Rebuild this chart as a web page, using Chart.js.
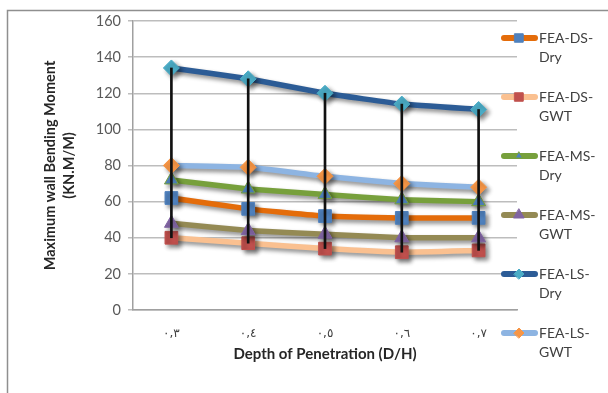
<!DOCTYPE html>
<html lang="en">
<head>
    <meta charset="UTF-8">
    <title>Maximum wall bending moment</title>
    <script src="https://cdn.jsdelivr.net/npm/chart.js"></script>
    <style>
        html, body {
            margin: 0;
            padding: 0;
            background: #fff;
        }
        #wrap {
            width: 608px;
            height: 393px;
        }
    </style>
</head>
<body>
    <div id="wrap"><canvas id="momentChart" width="608" height="393"></canvas></div>

    <script>
        // depth of penetration D/H (shown with Arabic-Indic digits)
        const depthLabels = ['٠,٣', '٠,٤', '٠,٥', '٠,٦', '٠,٧'];

        const dsDry = [62, 56, 52, 51, 51];
        const dsGwt = [40, 37, 34, 32, 33];
        const msDry = [72, 67, 64, 61, 60];
        const msGwt = [48, 44, 42, 40, 40];
        const lsDry = [134, 128, 120, 114, 111];
        const lsGwt = [80, 79, 74, 70, 68];

        const seriesNames = [
            ['FEA-DS-', 'Dry'], ['FEA-DS-', 'GWT'],
            ['FEA-MS-', 'Dry'], ['FEA-MS-', 'GWT'],
            ['FEA-LS-', 'Dry'], ['FEA-LS-', 'GWT']
        ];

        const yTicks = { min: 0, max: 160, step: 20 };

        // line colour, marker fill / edge, marker shape, radius in plot and legend
        const styles = [
            { line: '#E46C0A', fill: '#4F81BD', edge: '#4F81BD', shape: 'rect', r: 9, lr: 6 },
            { line: '#FAC090', fill: '#C0504D', edge: '#C0504D', shape: 'rect', r: 9, lr: 6 },
            { line: '#77A03C', fill: '#4F81BD', edge: '#77A03C', shape: 'triangle', r: 8, lr: 4 },
            { line: '#948A54', fill: '#8064A2', edge: '#8064A2', shape: 'triangle', r: 8, lr: 6 },
            { line: '#2C5C96', fill: '#4BACC6', edge: '#4BACC6', shape: 'rectRot', r: 8, lr: 5 },
            { line: '#8DB4E2', fill: '#F79646', edge: '#F79646', shape: 'rectRot', r: 8, lr: 5 }
        ];

        const allSeries = [dsDry, dsGwt, msDry, msGwt, lsDry, lsGwt];

        const lineSets = allSeries.map((vals, i) => ({
            type: 'line',
            label: seriesNames[i].join(''),
            data: vals,
            borderColor: styles[i].line,
            borderWidth: 5.5,
            backgroundColor: styles[i].fill,
            pointBackgroundColor: styles[i].fill,
            pointBorderColor: styles[i].edge,
            pointBorderWidth: 1,
            pointStyle: styles[i].shape,
            pointRadius: styles[i].r,
            tension: 0.12,
            order: 6 - i
        }));

        // high-low lines: from the lowest to the highest series at each depth
        const highLow = {
            type: 'bar',
            label: 'hl',
            data: depthLabels.map((_, k) => {
                const col = allSeries.map(s => s[k]);
                return [Math.min(...col), Math.max(...col)];
            }),
            backgroundColor: '#111',
            barThickness: 2,
            order: -1
        };

        const shadowPlugin = {
            id: 'shadow',
            beforeDatasetDraw(chart, args) {
                if (args.meta.type !== 'line') return;
                const ctx = chart.ctx;
                ctx.save();
                ctx.shadowColor = 'rgba(0,0,0,0.45)';
                ctx.shadowBlur = 4;
                ctx.shadowOffsetX = 3;
                ctx.shadowOffsetY = 3;
            },
            afterDatasetDraw(chart, args) {
                if (args.meta.type !== 'line') return;
                chart.ctx.restore();
            }
        };

        const framePlugin = {
            id: 'frame',
            beforeDraw(chart) {
                const ctx = chart.ctx;
                ctx.save();
                ctx.fillStyle = '#fff';
                ctx.fillRect(0, 0, chart.width, chart.height);
                ctx.strokeStyle = '#8f8f8f';
                ctx.lineWidth = 1.5;
                ctx.strokeRect(7.5, 10.5, 800, 500);
                ctx.restore();
            }
        };

        // legend with two-line names to the right of the plot
        const sideLegend = {
            id: 'sideLegend',
            afterDraw(chart) {
                const ctx = chart.ctx;
                ctx.save();
                seriesNames.forEach((name, i) => {
                    const st = styles[i];
                    const y = 38 + i * 59;
                    ctx.strokeStyle = st.line;
                    ctx.lineWidth = 6;
                    ctx.lineCap = 'round';
                    ctx.beginPath();
                    ctx.moveTo(504, y);
                    ctx.lineTo(535, y);
                    ctx.stroke();
                    ctx.fillStyle = st.fill;
                    ctx.strokeStyle = st.edge;
                    ctx.lineWidth = 1;
                    Chart.helpers.drawPoint(ctx, {
                        pointStyle: st.shape,
                        radius: st.lr,
                        borderWidth: 1
                    }, 519, y);
                    ctx.fillStyle = '#404040';
                    ctx.font = '14px Lato';
                    ctx.textBaseline = 'middle';
                    ctx.textAlign = 'left';
                    ctx.fillText(name[0], 539, y);
                    ctx.fillText(name[1], 539, y + 19);
                });
                ctx.restore();
            }
        };

        new Chart(document.getElementById('momentChart'), {
            data: {
                labels: depthLabels,
                datasets: [highLow, ...lineSets]
            },
            options: {
                responsive: false,
                animation: false,
                layout: { padding: { top: 21, right: 91, bottom: 30, left: 41 } },
                plugins: {
                    legend: { display: false },
                    tooltip: { enabled: false }
                },
                scales: {
                    x: {
                        grid: { display: false },
                        border: { color: '#a0a0a0', width: 1.5 },
                        ticks: { color: '#404040', font: { family: 'DejaVu Sans', size: 12 }, padding: 9 },
                        title: {
                            display: true,
                            text: 'Depth of Penetration (D/H)',
                            color: '#262626',
                            font: { family: 'Lato', size: 15, weight: 'bold' },
                            padding: { top: 4, bottom: 0 }
                        },
                        afterFit(scale) { scale.height = 53; }
                    },
                    y: {
                        min: yTicks.min,
                        max: yTicks.max,
                        ticks: {
                            stepSize: yTicks.step,
                            color: '#595959',
                            font: { family: 'Lato', size: 14.5 },
                            padding: 7
                        },
                        grid: { color: '#bdbdbd', lineWidth: 1.5, tickLength: 5 },
                        border: { color: '#a0a0a0', width: 1.5 },
                        title: {
                            display: true,
                            text: ['Maximum wall Bending Moment', '(KN.M/M)'],
                            color: '#262626',
                            font: { family: 'Lato', size: 14.5, weight: 'bold', lineHeight: 1.3 },
                            padding: { top: 0, bottom: 0 }
                        },
                        afterFit(scale) { scale.width = 92; }
                    }
                }
            },
            plugins: [framePlugin, shadowPlugin, sideLegend]
        });
    </script>
</body>
</html>
